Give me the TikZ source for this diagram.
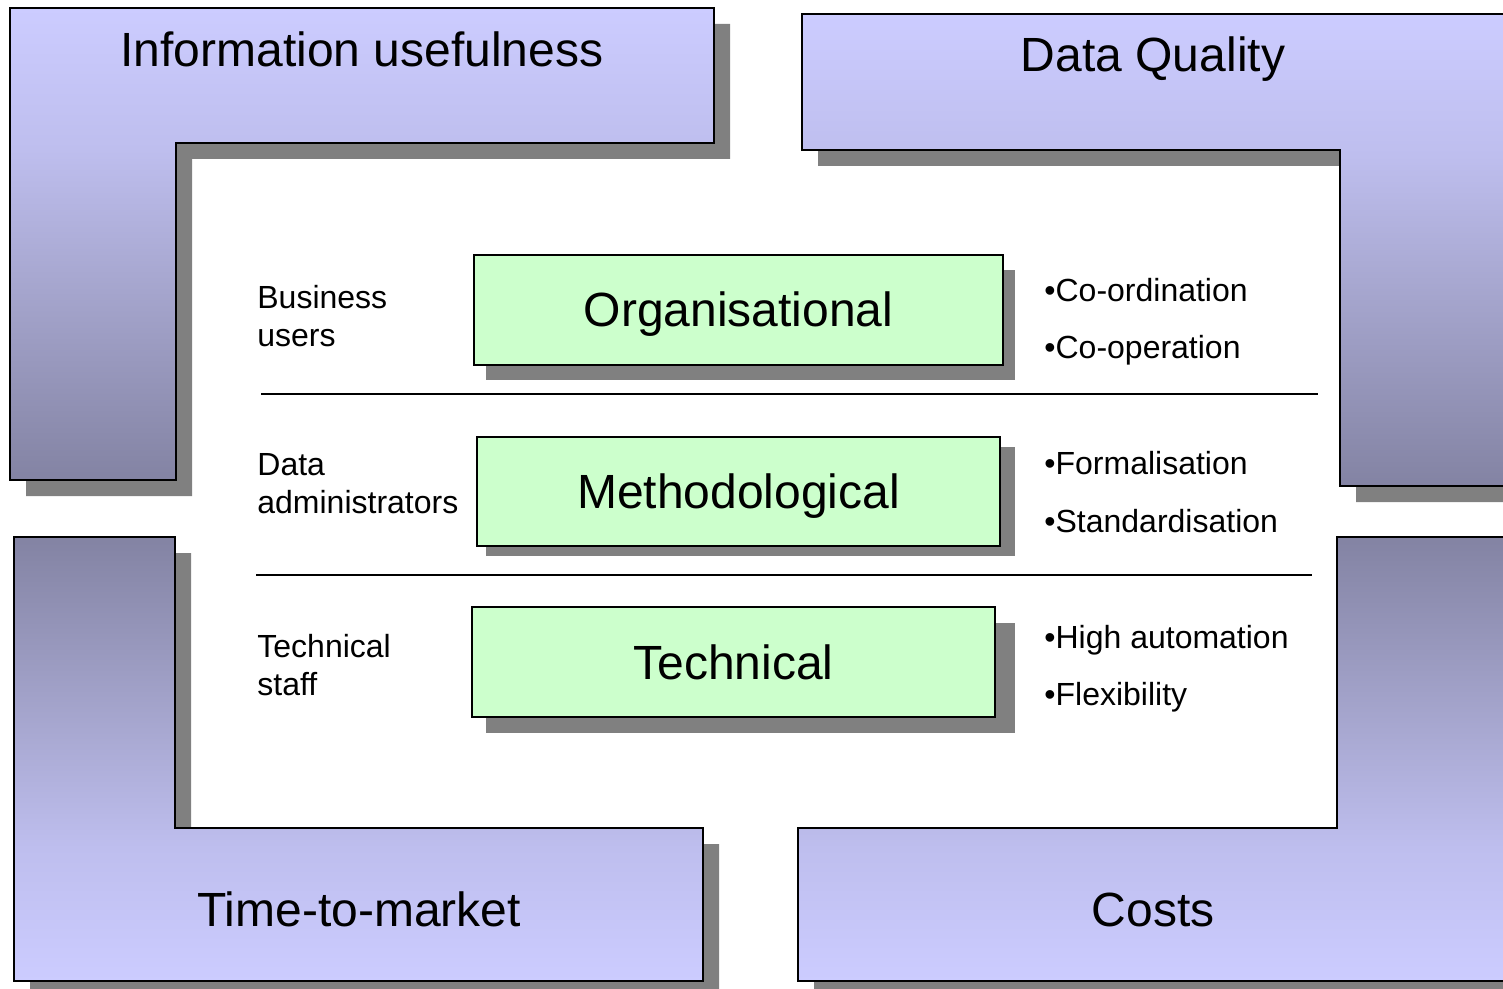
\documentclass[tikz,border=0pt]{standalone}
\usepackage{fontspec}
\setmainfont{Liberation Sans}
\definecolor{lavlight}{RGB}{204,204,255}
\definecolor{lavmidA}{RGB}{190,190,238}
\definecolor{lavmidB}{RGB}{165,165,205}
\definecolor{lavdark}{RGB}{131,131,163}
\definecolor{shadowgray}{RGB}{128,128,128}
\definecolor{mintgreen}{RGB}{204,255,204}
\pgfdeclareverticalshading{lavdown}{100bp}{color(0bp)=(lavdark); color(25bp)=(lavdark); color(45bp)=(lavmidB); color(60bp)=(lavmidA); color(75bp)=(lavlight); color(100bp)=(lavlight)}
\pgfdeclareverticalshading{lavup}{100bp}{color(0bp)=(lavlight); color(25bp)=(lavlight); color(40bp)=(lavmidA); color(55bp)=(lavmidB); color(75bp)=(lavdark); color(100bp)=(lavdark)}
\begin{document}
\begin{tikzpicture}[x=0.5pt,y=-0.5pt,
  lshadow/.style={fill=shadowgray,draw=none},
  lframe/.style={draw=black,line width=1pt},
  topshade/.style={shading=lavdown},
  botshade/.style={shading=lavup},
  bigtext/.style={font=\fontsize{24}{28}\selectfont,inner sep=0pt},
  smalltext/.style={font=\fontsize{16}{19}\selectfont,inner sep=0pt,anchor=base west},
  greenbox/.style={fill=mintgreen,draw=black,line width=1pt,
    font=\fontsize{24}{28}\selectfont,text height=17pt,text depth=0pt,inner sep=0pt},
  boxshadow/.style={fill=shadowgray,draw=none},
  sepline/.style={draw=black,line width=1pt}]
\useasboundingbox (0,0) rectangle (1503,989);
\fill[white] (0,0) rectangle (1503,989);
\clip (0,0) rectangle (1503,989);

% ---------- corner L shapes: shadows ----------
\fill[lshadow] (26,24) -- (730,24) -- (730,159) -- (192,159) -- (192,496) -- (26,496) -- cycle;
\fill[lshadow] (818,30) -- (1536,30) -- (1536,502) -- (1356,502) -- (1356,166) -- (818,166) -- cycle;
\fill[lshadow] (30,553) -- (191,553) -- (191,844) -- (719,844) -- (719,997) -- (30,997) -- cycle;
\fill[lshadow] (1353,553) -- (1536,553) -- (1536,997) -- (814,997) -- (814,844) -- (1353,844) -- cycle;

% ---------- corner L shapes ----------
\shade[topshade] (10,8) -- (714,8) -- (714,143) -- (176,143) -- (176,480) -- (10,480) -- cycle;
\draw[lframe] (10,8) -- (714,8) -- (714,143) -- (176,143) -- (176,480) -- (10,480) -- cycle;

\shade[topshade] (802,14) -- (1520,14) -- (1520,486) -- (1340,486) -- (1340,150) -- (802,150) -- cycle;
\draw[lframe] (802,14) -- (1520,14) -- (1520,486) -- (1340,486) -- (1340,150) -- (802,150) -- cycle;

\shade[botshade] (14,537) -- (175,537) -- (175,828) -- (703,828) -- (703,981) -- (14,981) -- cycle;
\draw[lframe] (14,537) -- (175,537) -- (175,828) -- (703,828) -- (703,981) -- (14,981) -- cycle;

\shade[botshade] (1337,537) -- (1520,537) -- (1520,981) -- (798,981) -- (798,828) -- (1337,828) -- cycle;
\draw[lframe] (1337,537) -- (1520,537) -- (1520,981) -- (798,981) -- (798,828) -- (1337,828) -- cycle;

% ---------- corner titles ----------
\node[bigtext,anchor=base] (infouse) at (362,67) {Information usefulness};
\node[bigtext,anchor=base] (dataq) at (1153,72) {Data Quality};
\node[bigtext,anchor=base] (ttm) at (359,926) {Time-to-market};
\node[bigtext,anchor=base] (costs) at (1153,926) {Costs};

% ---------- green boxes ----------
\fill[boxshadow] (486,270) rectangle (1015,380);
\fill[boxshadow] (486,447) rectangle (1015,556);
\fill[boxshadow] (486,623) rectangle (1015,733);

\node[greenbox,minimum width=264.5pt,minimum height=55pt] (org) at (738.5,310) {Organisational};
\node[greenbox,minimum width=261.5pt,minimum height=54.5pt] (meth) at (738.5,491.5) {Methodological};
\node[greenbox,minimum width=261.5pt,minimum height=55pt] (tech) at (733.5,662) {Technical};

% ---------- separator lines ----------
\coordinate (s1a) at (261,394);
\coordinate (s1b) at (1318,394);
\coordinate (s2a) at (256,575);
\coordinate (s2b) at (1312,575);
\draw[sepline] (s1a) -- (s1b);
\draw[sepline] (s2a) -- (s2b);

% ---------- left labels ----------
\node[smalltext] (bus1) at (257,309) {Business};
\node[smalltext] (bus2) at (257,347) {users};
\node[smalltext] (adm1) at (257,475) {Data};
\node[smalltext] (adm2) at (257,513) {administrators};
\node[smalltext] (ts1) at (257,657) {Technical};
\node[smalltext] (ts2) at (257,695) {staff};

% ---------- right labels ----------
\node[smalltext] (coord) at (1044,302) {•Co-ordination};
\node[smalltext] (coop) at (1044,358) {•Co-operation};
\node[smalltext] (formal) at (1044,474) {•Formalisation};
\node[smalltext] (stand) at (1044,532) {•Standardisation};
\node[smalltext] (auto) at (1044,648) {•High automation};
\node[smalltext] (flex) at (1044,705) {•Flexibility};
\end{tikzpicture}
\end{document}
